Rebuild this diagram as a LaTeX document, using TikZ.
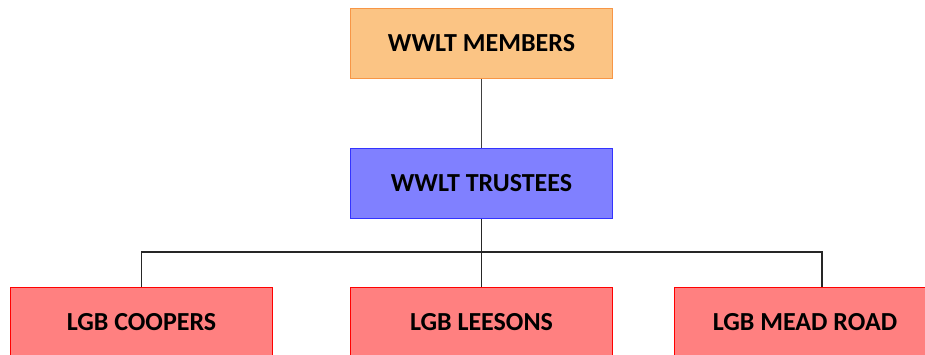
\documentclass[tikz,border=0pt]{standalone}
\usepackage{fontspec}
\setmainfont{Carlito}
\begin{document}
\begin{tikzpicture}[x=1pt,y=-1pt,
  box/.style={draw, line width=1pt, minimum width=262pt, minimum height=70pt, inner sep=0pt, font=\fontsize{26}{30}\selectfont\bfseries},
  orgbox/.style={box, fill={rgb,255:red,251;green,196;blue,132}, draw={rgb,255:red,247;green,150;blue,70}},
  bluebox/.style={box, fill={rgb,255:red,128;green,128;blue,255}, draw={rgb,255:red,51;green,51;blue,255}},
  redbox/.style={box, fill={rgb,255:red,255;green,128;blue,128}, draw={rgb,255:red,255;green,0;blue,0}},
  conn/.style={line width=1.2pt, draw=black!85}]
\useasboundingbox (0,0) rectangle (925,354);
\node[orgbox] (members) at (481.5,43) {WWLT MEMBERS};
\node[bluebox] (trustees) at (481.5,183) {WWLT TRUSTEES};
\node[redbox] (coopers) at (141.5,322) {LGB COOPERS};
\node[redbox] (leesons) at (481.5,322) {LGB LEESONS};
\node[redbox] (mead) at (805,322) {LGB MEAD ROAD};
\coordinate (bus) at (481.5,252);
\coordinate (meadtop) at ([xshift=17pt]mead.north);
\draw[conn, draw=black!75] (members) -- (trustees);
\draw[conn] (trustees.south) -- (leesons.north);
\draw[conn] (coopers.north) |- (bus) -| (meadtop);
\end{tikzpicture}
\end{document}
